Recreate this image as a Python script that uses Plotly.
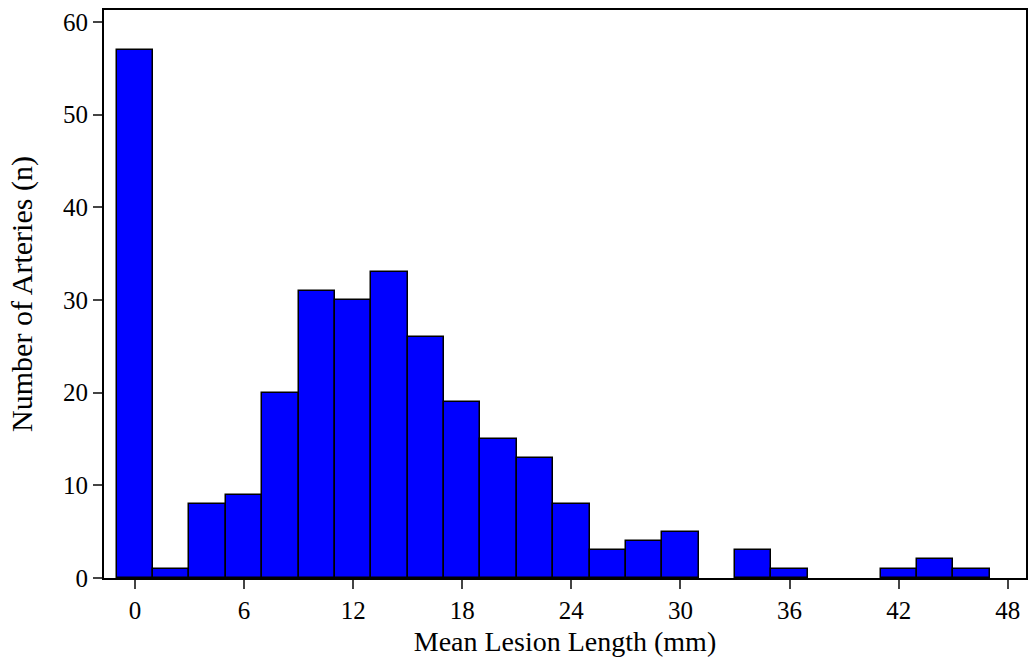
import plotly.graph_objects as go

bin_centers = [0, 2, 4, 6, 8, 10, 12, 14, 16, 18, 20, 22, 24, 26, 28, 30, 32, 34, 36, 38, 40, 42, 44, 46]
counts = [57, 1, 8, 9, 20, 31, 30, 33, 26, 19, 15, 13, 8, 3, 4, 5, 0, 3, 1, 0, 0, 1, 2, 1]
x_ticks = [0, 6, 12, 18, 24, 30, 36, 42, 48]
y_ticks = [0, 10, 20, 30, 40, 50, 60]

family = "Liberation Serif, Times New Roman, serif"
font = dict(family=family, size=25, color="black")

outline_widths = [1.5 if c > 0 else 0 for c in counts]

fig = go.Figure(go.Bar(
    x=bin_centers, y=counts, width=2,
    marker=dict(color="#0000FF", line=dict(color="black", width=outline_widths)),
    hoverinfo="x+y",
))

fig.update_layout(
    width=1029, height=668,
    margin=dict(l=104, r=3, t=10, b=90),
    paper_bgcolor="white", plot_bgcolor="white",
    font=font, showlegend=False, bargap=0,
    xaxis=dict(range=[-1.7, 49], tickvals=x_ticks, ticks="outside", ticklen=9, tickwidth=1.5,
               showline=True, linewidth=2, linecolor="black", mirror=True, showgrid=False,
               zeroline=False, automargin=False, tickfont=dict(family=family, size=25),
               title=dict(text="Mean Lesion Length (mm)", standoff=8, font=dict(family=family, size=28))),
    yaxis=dict(range=[0, 61.3], tickvals=y_ticks, ticks="outside", ticklen=9, tickwidth=1.5,
               showline=True, linewidth=2, linecolor="black", mirror=True, showgrid=False,
               zeroline=False, automargin=False, tickfont=dict(family=family, size=25),
               title=dict(text="Number of Arteries (n)", standoff=22, font=dict(family=family, size=30))),
)

fig.write_html("out.html", config={"displayModeBar": False},
               post_script="document.body.style.margin='0';")
